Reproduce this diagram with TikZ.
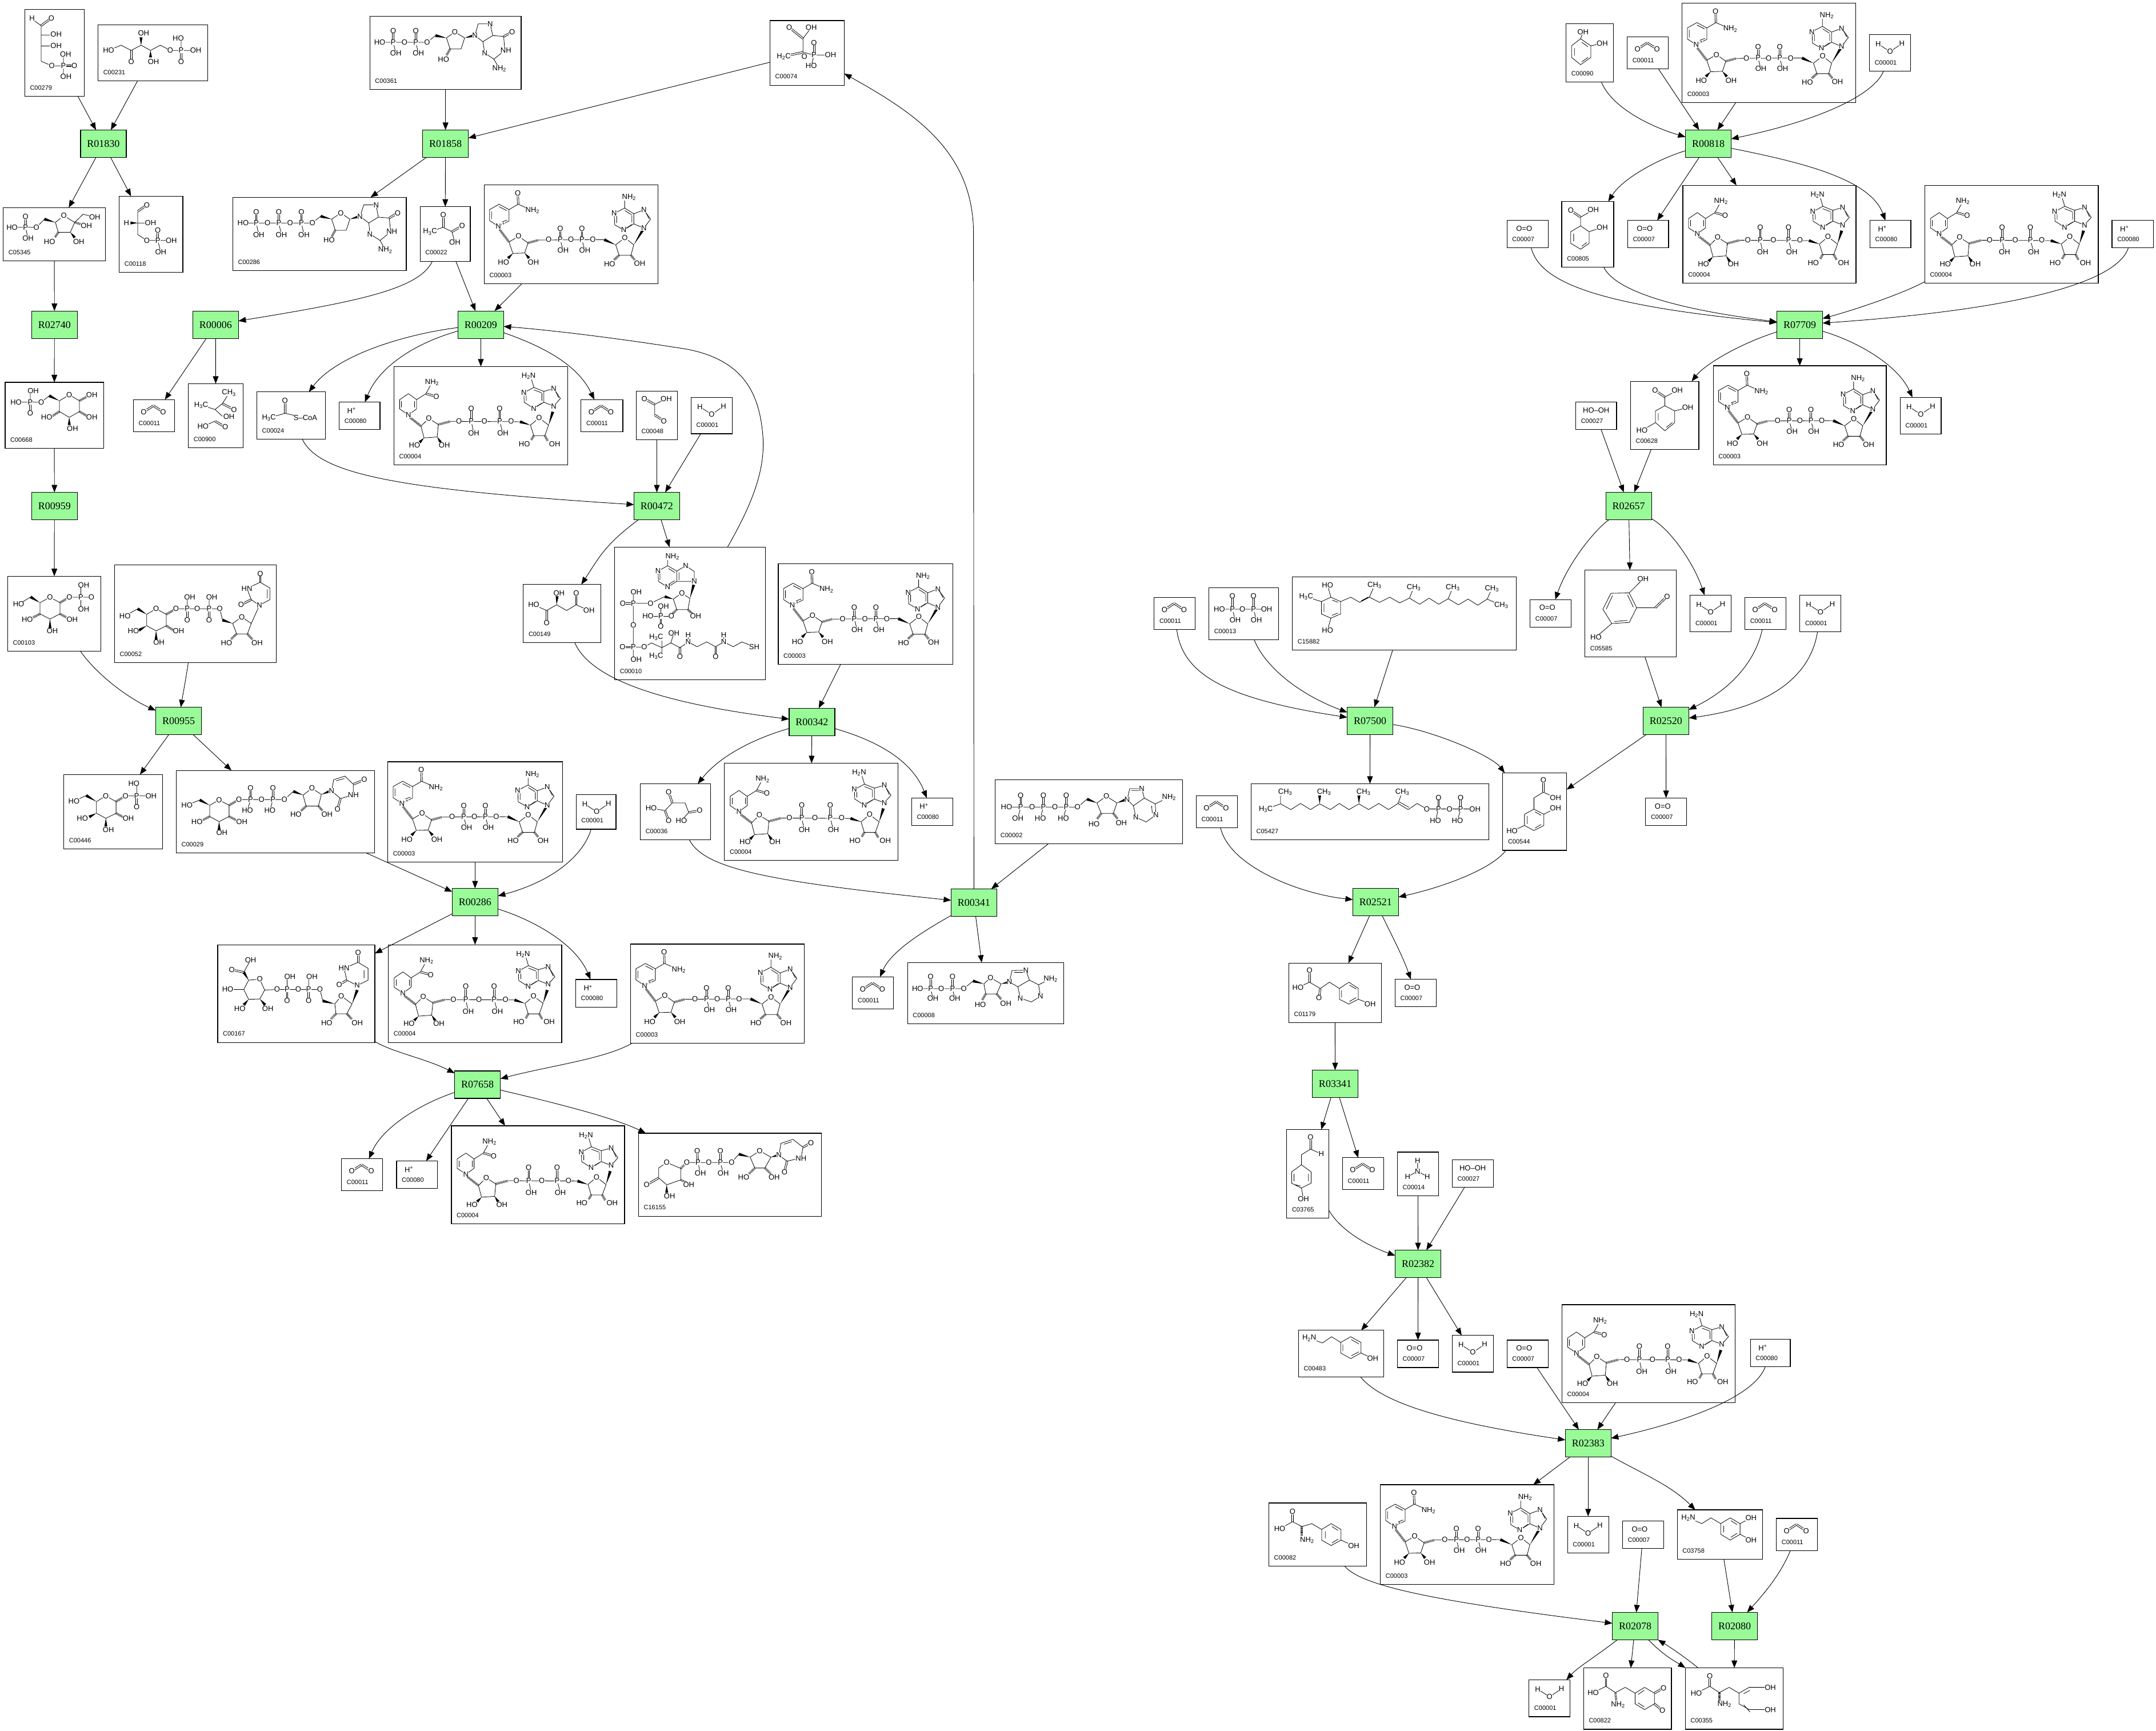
\documentclass[tikz,border=0pt]{standalone}
\usepackage{fontspec}
\setmainfont{Liberation Sans}
\newfontfamily\rfont{Liberation Serif}
\usetikzlibrary{calc,arrows.meta}
\newcounter{atm}
\tikzset{
 bd/.style={line width=.8pt,line join=round},
 hs/.style={line width=4pt,dash pattern=on .6pt off 1pt},
 atom/.style={fill=white,inner sep=.2pt,font=\fontsize{13}{13}\selectfont},
 cbox/.style={draw=black,fill=white,line width=1.2pt,inner sep=0pt,outer sep=0pt},
 rxn/.style={draw=black,fill={rgb,255:red,152;green,251;blue,152},line width=1.2pt,minimum width=80pt,minimum height=48pt,inner sep=0pt,outer sep=0pt,font=\rfont\fontsize{18}{18}\selectfont},
 lbl/.style={inner sep=0pt,font=\fontsize{11}{11}\selectfont},
 arr/.style={line width=.9pt,-{Triangle[length=13pt,width=10pt]}},
 fab/.style={x=.3333pt,y=-.3333pt}
}
\newcommand\At[3]{\stepcounter{atm}\node[atom] (at\arabic{atm}) at (#1,#2) {#3};}
\newcommand\Dbl[2]{\draw[bd] ($(#1)!1.4pt!90:(#2)$) -- ($(#2)!1.4pt!-90:(#1)$) ($(#1)!1.4pt!-90:(#2)$) -- ($(#2)!1.4pt!90:(#1)$);}
\newcommand\Wd[2]{\fill (#1) -- ($(#2)!2.6pt!90:(#1)$) -- ($(#2)!2.6pt!-90:(#1)$) -- cycle;}
\newcommand\Hs[2]{\draw[hs] (#1) -- (#2);}
\newcommand\Su[1]{\textsubscript{#1}}
\newcommand\cpd[6]{%
 \pgfmathsetmacro\cxx{(#2+#4)/2}\pgfmathsetmacro\cyy{(#3+#5)/2}%
 \pgfmathsetmacro\wdd{(#4-#2)*2.40625}\pgfmathsetmacro\htt{(#5-#3)*2.40625}%
 \node[cbox,minimum width=\wdd pt,minimum height=\htt pt] (#1) at (\cxx,\cyy) {};%
 \node[lbl,anchor=west] (#1t) at ([shift={(9pt,15pt)}]#1.south west) {#6};}
\newcommand\Mol[2]{\begin{scope}[shift={(#1.north west)},fab]#2\end{scope}}
\newcommand\St[2]{\draw[arr] (#1) -- (#2);}
\newcommand\Cv[4]{\draw[arr] (#1) .. controls (#2) and (#3) .. (#4);}
% small molecules, units are thirds of a pixel, origin top-left of box
\newcommand\mCO{\Dbl{54,65}{105,32}\Dbl{105,32}{156,65}\At{54}{65}{O}\At{156}{65}{O}}
\newcommand\mWat{\draw[bd] (46,49)--(108,89)--(170,47);\At{46}{49}{H}\At{170}{47}{H}\At{108}{89}{O}}
\newcommand\mOO{\At{90}{43}{O=O}}
\newcommand\mHp{\At{65}{44}{H\textsuperscript{+}}}
\newcommand\mHOOH{\At{107}{43}{HO--OH}}
\newcommand\mNAD{%
\draw[bd] (28,130)--(78,102)--(130,130)--(130,190)--(74,218)--(28,188)--cycle;
\draw[bd] (38,140)--(38,180) (78,115)--(118,135) (93,195)--(120,185);
\draw[bd] (130,130)--(178,102)--(253,135);
\Dbl{178,102}{176,43}
\Hs{80,235}{130,300}
\draw[bd] (130,300)--(180,270)--(230,305)--(212,358)--(150,360)--cycle;
\Wd{150,360}{125,385}\Wd{212,358}{235,385}
\Hs{230,305}{285,290}
\draw[bd] (285,290)--(630,288) (399,288)--(414,345) (513,288)--(528,345);
\Dbl{399,288}{399,230}\Dbl{513,288}{513,230}
\Wd{690,315}{630,288}
\draw[bd] (690,315)--(738,278)--(785,315)--(770,370)--(708,370)--cycle;
\Wd{785,315}{838,228}
\Hs{708,370}{680,395}\Hs{770,370}{790,395}
\draw[bd] (737,122)--(682,150)--(685,210)--(732,237)--(785,205)--(785,152)--(737,122)--(737,70) (785,152)--(838,132)--(873,180)--(838,228)--(785,205);
\draw[bd] (695,160)--(695,200) (738,135)--(773,157) (745,228)--(775,208) (848,145)--(865,178) (775,160)--(775,198);
\At{176}{43}{O}\At{253}{135}{NH\Su{2}}\At{74}{218}{N}\At{101}{205}{\fontsize{9}{9}\selectfont+}
\At{180}{270}{O}\At{101}{408}{HO}\At{258}{408}{OH}
\At{338}{288}{O}\At{399}{288}{P}\At{399}{230}{O}\At{414}{345}{OH}\At{455}{288}{O}\At{513}{288}{P}\At{513}{230}{O}\At{528}{345}{OH}\At{570}{288}{O}
\At{738}{278}{O}\At{658}{415}{HO}\At{816}{413}{OH}
\At{760}{65}{NH\Su{2}}\At{682}{150}{N}\At{732}{237}{N}\At{838}{132}{N}\At{838}{228}{N}}
\newcommand\mNADH{%
\draw[bd] (30,174)--(76,143)--(119,174)--(119,223)--(76,254)--(30,223)--cycle;
\draw[bd] (40,182)--(40,215) (109,182)--(109,215);
\draw[bd] (119,174)--(168,143)--(200,84);
\Dbl{168,143}{222,158}
\Hs{84,268}{142,313}
\draw[bd] (142,313)--(183,273)--(233,305)--(227,370)--(158,375)--cycle;
\Wd{158,375}{135,398}\Wd{227,370}{245,398}
\Hs{233,305}{298,288}
\draw[bd] (298,288)--(662,290) (406,288)--(419,350) (555,288)--(572,350);
\Dbl{406,288}{406,220}\Dbl{555,288}{555,220}
\Wd{717,308}{662,290}
\draw[bd] (717,308)--(762,270)--(812,308)--(792,363)--(734,363)--cycle;
\Wd{812,308}{834,238}
\Hs{734,363}{720,388}\Hs{792,363}{807,390}
\draw[bd] (735,110)--(682,138)--(684,188)--(734,220)--(787,188)--(787,131)--(735,110)--(720,60) (787,131)--(839,116)--(874,168)--(839,208)--(787,188);
\draw[bd] (695,148)--(695,180) (735,123)--(775,138) (745,212)--(778,192) (848,128)--(865,165) (777,140)--(777,180);
\At{222}{158}{O}\At{200}{84}{NH\Su{2}}\At{76}{254}{N}
\At{183}{273}{O}\At{108}{414}{HO}\At{265}{414}{OH}
\At{341}{288}{O}\At{406}{288}{P}\At{406}{220}{O}\At{419}{350}{OH}\At{475}{288}{O}\At{555}{288}{P}\At{555}{220}{O}\At{572}{350}{OH}\At{615}{288}{O}
\At{762}{270}{O}\At{685}{406}{HO}\At{844}{406}{OH}
\At{707}{50}{H\Su{2}N}\At{682}{138}{N}\At{734}{220}{N}\At{839}{116}{N}\At{839}{208}{N}}
\begin{document}
\begin{tikzpicture}[x=2.40625pt,y=-2.40625pt]
\useasboundingbox (0,0) rectangle (1568,1258.8);
\fill[white] (0,0) rectangle (1568,1258.8);
% reactions
\foreach \n/\p in {R01830/{75.2,104.5},R01858/{324,104.5},R02740/{39.6,236.1},R00006/{156.8,236.1},R00209/{349.7,236.1},R00959/{39.6,368},R00472/{477.7,368},R00955/{129.9,524.3},R00342/{590.5,525},R00286/{345.5,656},R00341/{708.3,656.4},R07658/{347.3,788.8},R00818/{1242.4,104.5},R07709/{1308.9,236.1},R02657/{1184.5,368},R02520/{1211.6,524.3},R07500/{996.4,524.2},R02521/{1000.5,656},R03341/{971,788.2},R02382/{1031.3,919.1},R02383/{1155,1049.6},R02078/{1189.2,1182.5},R02080/{1261.5,1182.5}}
 {\node[rxn] (\n) at (\p) {\n};}
% compounds
\cpd{C00279}{18}{6.8}{61.2}{70}{C00279}
\cpd{C00231}{71.3}{18}{151}{58.7}{C00231}
\cpd{C00361}{269}{11.9}{379}{65}{C00361}
\cpd{C05345}{2.4}{151}{76.6}{189.7}{C05345}
\cpd{C00118}{86.7}{142.7}{133}{198}{C00118}
\cpd{C00286}{169.3}{143.5}{295.5}{196.7}{C00286}
\cpd{C00022}{305.5}{150.3}{342}{190}{C00022}
\cpd{C00003a}{352.2}{134.4}{478.7}{206.4}{C00003}
\cpd{C00668}{3.7}{278}{75.3}{326}{C00668}
\cpd{C00011a}{97}{290.6}{127}{314}{C00011}
\cpd{C00900}{137}{279}{176.8}{325.6}{C00900}
\cpd{C00024}{186.8}{285}{236.6}{319.3}{C00024}
\cpd{C00080a}{246.7}{292.4}{276.4}{312.3}{C00080}
\cpd{C00004a}{286.5}{266.5}{412.9}{338}{C00004}
\cpd{C00011b}{422.6}{290.6}{453}{314}{C00011}
\cpd{C00048}{462.7}{284.4}{492.7}{319.7}{C00048}
\cpd{C00001a}{502.6}{289}{532.7}{315.4}{C00001}
\cpd{C00149}{380.6}{425}{437}{467.3}{C00149}
\cpd{C00010}{447}{397.9}{556.6}{494.3}{C00010}
\cpd{C00003b}{566}{410}{693}{483}{C00003}
\cpd{C00103}{5.6}{419}{73.3}{473.5}{C00103}
\cpd{C00052}{83.3}{410.7}{200.9}{481.8}{C00052}
\cpd{C00446}{46.4}{563.3}{118.2}{617.4}{C00446}
\cpd{C00029}{128.2}{560.3}{272.3}{620.3}{C00029}
\cpd{C00003c}{282}{554}{409}{627}{C00003}
\cpd{C00001b}{419}{578}{448}{603}{C00001}
\cpd{C00036}{465.7}{570}{516.8}{610.7}{C00036}
\cpd{C00004b}{526.9}{555}{653}{625.6}{C00004}
\cpd{C00080b}{663}{580.3}{693}{600.3}{C00080}
\cpd{C00002}{723.8}{567}{860}{613.6}{C00002}
\cpd{C00167}{158.3}{687}{272.6}{758.1}{C00167}
\cpd{C00004c}{282.5}{687}{408.5}{758.1}{C00004}
\cpd{C00080c}{418.7}{712.3}{448.7}{732.3}{C00080}
\cpd{C00003d}{458.6}{686.5}{584.8}{758.6}{C00003}
\cpd{C00011c}{620}{710.4}{649.9}{733.6}{C00011}
\cpd{C00008}{660}{700}{773.6}{744.5}{C00008}
\cpd{C00011d}{248.4}{842.6}{278.2}{866}{C00011}
\cpd{C00080d}{288.4}{844.3}{318}{864.3}{C00080}
\cpd{C00004d}{328.3}{818.7}{454.2}{890.1}{C00004}
\cpd{C16155}{464.4}{824.1}{597.3}{884.4}{C16155}
\cpd{C00074}{560}{15}{614}{62}{C00074}
\cpd{C00090}{1139}{17.2}{1173.3}{59.6}{C00090}
\cpd{C00011e}{1183.4}{26.7}{1213.2}{50}{C00011}
\cpd{C00003e}{1223.3}{2.3}{1349.5}{74.6}{C00003}
\cpd{C00001c}{1359.6}{25.2}{1389.4}{51.7}{C00001}
\cpd{C00007a}{1096}{160.3}{1126}{180.2}{C00007}
\cpd{C00805}{1135.8}{146.5}{1173.6}{194.2}{C00805}
\cpd{C00007b}{1183.7}{160.3}{1213.5}{180.2}{C00007}
\cpd{C00004e}{1223.9}{134.8}{1349.8}{205.9}{C00004}
\cpd{C00080e}{1360}{160.3}{1389.7}{180.2}{C00080}
\cpd{C00004f}{1399.8}{134.8}{1526}{205.9}{C00004}
\cpd{C00080f}{1536}{160.3}{1566}{180.2}{C00080}
\cpd{C00027a}{1146}{292.4}{1175.7}{312.3}{C00027}
\cpd{C00628}{1185.8}{277.3}{1235.5}{327}{C00628}
\cpd{C00003f}{1246}{266}{1371.8}{338}{C00003}
\cpd{C00001d}{1382}{289}{1411.7}{315.7}{C00001}
\cpd{C00007c}{1112.8}{436}{1142.6}{456}{C00007}
\cpd{C05585}{1152.7}{414.5}{1219.2}{477.6}{C05585}
\cpd{C00001e}{1229.2}{432.8}{1259}{459.5}{C00001}
\cpd{C00011f}{1269}{434.4}{1299}{457.9}{C00011}
\cpd{C00001f}{1309}{432.8}{1338.8}{459.5}{C00001}
\cpd{C00544}{1092.9}{562}{1139.4}{618.4}{C00544}
\cpd{C00007d}{1196.8}{580.3}{1226.6}{600.2}{C00007}
\cpd{C00011g}{839.4}{434.4}{869.2}{457.9}{C00011}
\cpd{C00013}{879.2}{427.4}{929.9}{465.2}{C00013}
\cpd{C15882}{939.9}{419.5}{1102.8}{472.7}{C15882}
\cpd{C00011h}{870}{578.6}{900}{601.9}{C00011}
\cpd{C05427}{909.9}{569.9}{1082.7}{610.6}{C05427}
\cpd{C01179}{937.3}{700.4}{1004.6}{743.7}{C01179}
\cpd{C00007e}{1014.6}{712.2}{1044.5}{732.1}{C00007}
\cpd{C03765}{935.8}{821.4}{966.5}{885.7}{C03765}
\cpd{C00011i}{976.4}{841.9}{1006.4}{865}{C00011}
\cpd{C00014}{1016.3}{837.8}{1046.2}{869.6}{C00014}
\cpd{C00027b}{1056.2}{843.5}{1086.1}{863.4}{C00027}
\cpd{C00483}{944.4}{967.4}{1006.4}{1001.5}{C00483}
\cpd{C00007f}{1016.3}{974.5}{1046.2}{994.5}{C00007}
\cpd{C00001g}{1056.2}{971.1}{1086.1}{997.8}{C00001}
\cpd{C00007g}{1096}{974.5}{1126}{994.5}{C00007}
\cpd{C00004g}{1136}{948.8}{1262}{1020}{C00004}
\cpd{C00080g}{1273}{974}{1302}{994}{C00080}
\cpd{C00082}{922.8}{1093}{993.8}{1139}{C00082}
\cpd{C00003g}{1003.9}{1079.7}{1130}{1152.3}{C00003}
\cpd{C00001h}{1140}{1102.7}{1170}{1129.3}{C00001}
\cpd{C00007h}{1180}{1106}{1209.8}{1126}{C00007}
\cpd{C03758}{1219.8}{1098}{1281.9}{1134}{C03758}
\cpd{C00011j}{1291.9}{1104.2}{1321.6}{1127.8}{C00011}
\cpd{C00001i}{1112}{1221.6}{1141.7}{1248.4}{C00001}
\cpd{C00822}{1151.7}{1212.9}{1215.6}{1257.5}{C00822}
\cpd{C00355}{1225.7}{1212.9}{1296.7}{1257.5}{C00355}
% repeated molecules
\foreach \b in {C00003a,C00003b,C00003c,C00003d,C00003e,C00003f,C00003g}{\Mol{\b}{\mNAD}}
\foreach \b in {C00004a,C00004b,C00004c,C00004d,C00004e,C00004f,C00004g}{\Mol{\b}{\mNADH}}
\foreach \b in {C00011a,C00011b,C00011c,C00011d,C00011e,C00011f,C00011g,C00011h,C00011i,C00011j}{\Mol{\b}{\mCO}}
\foreach \b in {C00001a,C00001b,C00001c,C00001d,C00001e,C00001f,C00001g,C00001h,C00001i}{\Mol{\b}{\mWat}}
\foreach \b in {C00007a,C00007b,C00007c,C00007d,C00007e,C00007f,C00007g,C00007h}{\Mol{\b}{\mOO}}
\foreach \b in {C00080a,C00080b,C00080c,C00080d,C00080e,C00080f,C00080g}{\Mol{\b}{\mHp}}
\foreach \b in {C00027a,C00027b}{\Mol{\b}{\mHOOH}}
% single molecules, zoom 1 frame
\begin{scope}[x=.6378pt,y=-.51pt]
\draw[bd] (95,72)--(113,88)--(113,210)--(142,226)--(204,226) (113,120)--(137,120) (113,158)--(137,158) (174,187)--(174,262);
\Dbl{113,88}{141,62}\Dbl{174,226}{204,226}
\At{88}{62}{H}\At{141}{62}{O}\At{154}{118}{OH}\At{154}{157}{OH}\At{142}{226}{O}\At{174}{226}{P}\At{180}{187}{OH}\At{204}{226}{O}\At{181}{262}{OH}
\draw[bd] (298,173)--(332,155)--(360,173)--(387,155)--(413,173)--(440,155)--(467,173)--(537,173) (497,132)--(497,173);
\Dbl{360,173}{360,212}\Dbl{497,173}{497,212}\Wd{387,155}{387,128}\Wd{413,173}{413,197}
\At{298}{173}{HO}\At{360}{212}{O}\At{394}{114}{OH}\At{421}{212}{OH}\At{467}{173}{O}\At{497}{173}{P}\At{489}{132}{HO}\At{537}{173}{OH}\At{497}{212}{O}
\draw[bd] (1042,145)--(1172,145)--(1195,122) (1079,145)--(1086,183) (1141,145)--(1148,183);
\Dbl{1079,145}{1079,105}\Dbl{1141,145}{1141,105}\Wd{1225,130}{1195,122}
\draw[bd] (1225,130)--(1248,110)--(1275,130)--(1265,168)--(1235,168)--cycle;
\Hs{1235,168}{1225,190}\Wd{1275,130}{1300,122}
\draw[bd] (1303,122)--(1325,143)--(1330,182)--(1355,203)--(1385,173)--(1382,125)--(1352,122)--(1325,143) (1352,122)--(1345,82)--(1312,82)--(1303,122) (1355,203)--(1370,235);
\Dbl{1382,125}{1405,110}
\At{1042}{145}{HO}\At{1079}{145}{P}\At{1079}{105}{O}\At{1086}{183}{OH}\At{1110}{145}{O}\At{1141}{145}{P}\At{1141}{105}{O}\At{1148}{183}{OH}\At{1172}{145}{O}\At{1248}{110}{O}\At{1217}{203}{HO}\At{1303}{122}{N}\At{1345}{82}{N}\At{1330}{182}{N}\At{1388}{173}{NH}\At{1405}{110}{O}\At{1370}{235}{NH\Su{2}}
\draw[bd] (667,765)--(857,765)--(880,742) (703,765)--(710,805) (765,765)--(772,805) (827,765)--(834,805);
\Dbl{703,765}{703,727}\Dbl{765,765}{765,727}\Dbl{827,765}{827,727}\Wd{910,752}{880,742}
\draw[bd] (910,752)--(935,731)--(960,752)--(950,790)--(920,790)--cycle;
\Hs{920,790}{910,812}\Wd{960,752}{985,743}
\draw[bd] (988,743)--(1012,765)--(1015,803)--(1043,825)--(1072,795)--(1068,748)--(1038,745)--(1012,765) (1038,745)--(1032,703)--(998,703)--(988,743) (1043,825)--(1057,858);
\Dbl{1068,748}{1091,731}
\At{667}{765}{HO}\At{703}{765}{P}\At{703}{727}{O}\At{710}{805}{OH}\At{734}{765}{O}\At{765}{765}{P}\At{765}{727}{O}\At{772}{805}{OH}\At{796}{765}{O}\At{827}{765}{P}\At{827}{727}{O}\At{834}{805}{OH}\At{857}{765}{O}\At{935}{731}{O}\At{903}{824}{HO}\At{988}{743}{N}\At{1032}{703}{N}\At{1015}{803}{N}\At{1075}{795}{NH}\At{1091}{731}{O}\At{1057}{858}{NH\Su{2}}
\draw[bd] (33,780)--(100,780)--(122,752) (70,780)--(77,818);
\Dbl{70,780}{70,743}\Wd{152,763}{122,752}
\draw[bd] (152,763)--(175,740)--(205,763)--(193,797)--(160,797)--cycle (205,763)--(228,735)--(260,745);
\Hs{205,763}{237,775}\Hs{160,797}{150,815}\Wd{193,797}{205,815}
\At{33}{780}{HO}\At{70}{780}{P}\At{70}{743}{O}\At{77}{818}{OH}\At{100}{780}{O}\At{175}{740}{O}\At{260}{745}{OH}\At{237}{775}{OH}\At{136}{830}{HO}\At{216}{830}{OH}
\draw[bd] (378,725)--(378,805)--(403,825)--(470,825) (433,825)--(441,864) (378,765)--(400,765);
\Dbl{378,725}{403,703}\Dbl{433,825}{433,790}\Wd{378,765}{358,765}
\At{403}{703}{O}\At{347}{764}{H}\At{413}{764}{OH}\At{403}{825}{O}\At{433}{825}{P}\At{433}{790}{O}\At{470}{825}{OH}\At{441}{864}{OH}
\draw[bd] (1180,795)--(1216,780)--(1240,795)--(1248,832);
\Dbl{1216,780}{1216,737}\Dbl{1240,795}{1268,775}
\At{1216}{737}{O}\At{1180}{795}{H\Su{3}C}\At{1268}{775}{O}\At{1248}{832}{OH}
\draw[bd] (44,1380)--(113,1380)--(135,1358) (83,1342)--(83,1380);
\Dbl{83,1380}{83,1418}\Wd{163,1375}{135,1358}
\draw[bd] (163,1375)--(190,1355)--(218,1375)--(218,1412)--(190,1432)--(163,1412)--cycle;
\Hs{218,1375}{240,1360}\Hs{218,1412}{240,1428}\Hs{163,1412}{143,1428}\Wd{190,1432}{190,1458}
\At{91}{1342}{OH}\At{44}{1380}{HO}\At{83}{1380}{P}\At{83}{1418}{O}\At{113}{1380}{O}\At{190}{1355}{O}\At{252}{1355}{OH}\At{252}{1432}{OH}\At{199}{1470}{OH}\At{128}{1432}{HO}
\draw[bd] (552,1390)--(590,1405)--(610,1385)--(628,1350) (590,1405)--(610,1428) (557,1463)--(590,1445);
\Dbl{610,1385}{642,1405}\Dbl{590,1445}{618,1465}
\At{552}{1390}{H\Su{3}C}\At{628}{1348}{CH\Su{3}}\At{642}{1405}{O}\At{628}{1430}{OH}\At{557}{1463}{HO}\At{618}{1465}{O}
\draw[bd] (738,1434)--(782,1418)--(838,1434);
\Dbl{782,1418}{782,1375}
\At{782}{1375}{O}\At{738}{1434}{H\Su{3}C}\At{838}{1434}{S--CoA}
\end{scope}
% zoom 2 frame
\begin{scope}[shift={(2650pt,0pt)},x=.716pt,y=-.51pt]
\draw[bd] (168,110)--(162,133) (162,133)--(187,157)--(187,197)--(162,222)--(140,197)--(140,157)--cycle (187,157)--(215,149) (147,165)--(147,190) (165,212)--(180,197) (165,145)--(180,160);
\At{168}{110}{OH}\At{215}{149}{OH}
\draw[bd] (162,745)--(193,720) (162,745)--(162,775) (162,775)--(183,795)--(183,835)--(162,855)--(138,835)--(138,795)--cycle (183,795)--(215,780) (145,802)--(145,828) (165,845)--(177,832);
\Dbl{162,745}{138,722}
\At{138}{722}{O}\At{193}{720}{OH}\At{215}{780}{OH}
\draw[bd] (368,1362)--(398,1340) (368,1362)--(368,1392) (368,1392)--(392,1410)--(392,1450)--(368,1478)--(345,1450)--(345,1410)--cycle (392,1410)--(424,1398) (345,1450)--(312,1477) (352,1418)--(352,1442) (372,1466)--(386,1450);
\Dbl{368,1362}{344,1340}
\At{344}{1340}{O}\At{398}{1340}{OH}\At{424}{1398}{OH}\At{312}{1477}{HO}
\end{scope}
% zoom 5 frame
\begin{scope}[shift={(2000pt,-980pt)},x=.4464pt,y=-.3333pt]
\draw[bd] (300,258)--(485,258) (351,258)--(362,315) (434,258)--(445,315);
\Dbl{351,258}{351,188}\Dbl{434,258}{434,188}
\At{300}{258}{HO}\At{351}{258}{P}\At{351}{188}{O}\At{362}{315}{OH}\At{390}{258}{O}\At{434}{258}{P}\At{434}{188}{O}\At{445}{315}{OH}\At{485}{258}{OH}
\draw[bd] (737,195)--(775,218)--(775,283)--(737,305)--(700,283)--(700,218)--cycle (724,132)--(737,195) (700,218)--(640,193) (737,305)--(724,368) (710,228)--(710,273) (742,210)--(765,222) (742,290)--(765,278);
\draw[bd] (775,218)--(815,195)--(850,222)--(888,195)--(928,222)--(968,195)--(1007,225)--(1045,200)--(1085,232)--(1122,200)--(1160,232)--(1197,203)--(1237,235)--(1275,205)--(1313,237)--(1350,205)--(1405,238) (888,195)--(908,133) (1045,200)--(1062,143) (1197,203)--(1215,145) (1350,205)--(1368,150) (856,214)--(884,194);
\At{724}{132}{HO}\At{640}{193}{H\Su{3}C}\At{724}{368}{HO}\At{908}{133}{CH\Su{3}}\At{1062}{143}{CH\Su{3}}\At{1215}{145}{CH\Su{3}}\At{1368}{150}{CH\Su{3}}\At{1405}{238}{CH\Su{3}}
\draw[bd] (482,1308)--(540,1280)--(580,1310)--(618,1278)--(657,1310)--(693,1280)--(735,1310)--(770,1278)--(808,1310)--(847,1280)--(885,1310)--(925,1278)--(963,1310)--(1000,1278)--(1040,1310)--(1075,1278)--(1113,1307)--(1302,1307) (540,1280)--(540,1218) (1000,1278)--(1017,1218) (1005,1270)--(1043,1298) (1159,1307)--(1147,1367) (1246,1307)--(1233,1367);
\Wd{693,1280}{693,1235}\Wd{847,1280}{847,1235}
\Dbl{1159,1307}{1159,1247}\Dbl{1246,1307}{1246,1247}
\At{482}{1308}{H\Su{3}C}\At{558}{1218}{CH\Su{3}}\At{710}{1218}{CH\Su{3}}\At{865}{1218}{CH\Su{3}}\At{1017}{1218}{CH\Su{3}}\At{1113}{1307}{O}\At{1159}{1307}{P}\At{1159}{1247}{O}\At{1147}{1367}{HO}\At{1202}{1307}{O}\At{1246}{1307}{P}\At{1246}{1247}{O}\At{1233}{1367}{HO}\At{1302}{1307}{OH}
\end{scope}
% zoom 6 frame
\begin{scope}[shift={(2200pt,-2500pt)},x=.6378pt,y=-.339pt]
\draw[bd] (62,517)--(97,480)--(123,505)--(150,490)--(177,520) (177,520)--(203,490)--(230,520)--(230,575)--(203,603)--(177,575)--cycle (230,575)--(265,605) (187,530)--(187,565) (205,505)--(222,525) (205,590)--(222,570);
\Dbl{97,480}{97,428}\Hs{123,505}{123,550}
\At{97}{428}{O}\At{62}{517}{HO}\At{137}{575}{NH\Su{2}}\At{265}{605}{OH}
\draw[bd] (1183,460)--(1220,490)--(1245,460)--(1272,490) (1272,490)--(1298,460)--(1325,490)--(1325,545)--(1298,575)--(1272,545)--cycle (1325,490)--(1355,460) (1325,545)--(1355,575) (1280,500)--(1280,535) (1300,475)--(1317,495) (1300,560)--(1317,540);
\At{1183}{460}{H\Su{2}N}\At{1355}{460}{OH}\At{1355}{575}{OH}
\draw[bd] (922,1362)--(957,1330)--(983,1362)--(1010,1335)--(1037,1365) (1037,1365)--(1063,1335)--(1090,1365)--(1090,1420)--(1063,1450)--(1037,1420)--cycle (1045,1372)--(1062,1350) (1045,1415)--(1062,1436);
\Dbl{957,1330}{957,1275}\Dbl{1090,1365}{1115,1338}\Dbl{1090,1420}{1112,1455}\Hs{983,1362}{985,1405}
\At{957}{1275}{O}\At{922}{1362}{HO}\At{990}{1425}{NH\Su{2}}\At{1115}{1338}{O}\At{1112}{1455}{O}
\draw[bd] (1205,1365)--(1242,1330)--(1268,1362)--(1295,1335)--(1322,1365)--(1350,1335)--(1408,1335) (1322,1365)--(1322,1420)--(1350,1450)--(1408,1450) (1335,1368)--(1352,1350) (1335,1425)--(1352,1462);
\Dbl{1242,1330}{1242,1278}\Hs{1268,1362}{1268,1400}
\At{1242}{1278}{O}\At{1205}{1365}{HO}\At{1282}{1422}{NH\Su{2}}\At{1408}{1335}{OH}\At{1408}{1450}{OH}
\end{scope}
% zoom 7 frame
\begin{scope}[shift={(0pt,-960pt)},x=.4464pt,y=-.357pt]
\draw[bd] (73,273)--(120,237) (157,265)--(196,238)--(235,265)--(235,320)--(196,345)--(157,320)--cycle (272,238)--(358,238) (317,178)--(317,297);
\Wd{157,265}{120,237}\Hs{235,265}{272,238}\Hs{157,320}{125,340}\Hs{235,320}{265,340}\Wd{196,345}{196,390}
\At{73}{273}{HO}\At{196}{238}{O}\At{272}{238}{O}\At{317}{238}{P}\At{328}{178}{OH}\At{358}{238}{O}\At{328}{297}{OH}\At{107}{347}{HO}\At{283}{347}{OH}\At{205}{403}{OH}
\draw[bd] (490,330)--(540,295) (575,322)--(612,295)--(652,322)--(652,378)--(612,403)--(575,378)--cycle (690,295)--(862,295)--(872,350) (734,238)--(734,295) (820,238)--(820,295);
\Wd{575,322}{540,295}\Hs{652,322}{690,295}\Wd{575,378}{545,400}\Hs{652,378}{680,400}\Wd{612,403}{612,445}
\Dbl{734,295}{734,350}\Dbl{820,295}{820,350}\Wd{912,367}{872,350}
\draw[bd] (912,367)--(948,335)--(985,367)--(970,418)--(928,418)--cycle (985,367)--(1017,278)--(1058,250)--(1058,193)--(1020,165)--(968,195)--(985,250)--(1017,278) (1048,200)--(1048,243);
\Hs{928,418}{905,445}\Hs{970,418}{990,445}
\Dbl{1020,165}{1020,122}\Dbl{985,250}{945,275}
\At{490}{330}{HO}\At{612}{295}{O}\At{690}{295}{O}\At{734}{295}{P}\At{744}{238}{OH}\At{734}{350}{O}\At{773}{295}{O}\At{820}{295}{P}\At{830}{238}{OH}\At{820}{350}{O}\At{862}{295}{O}\At{523}{403}{HO}\At{700}{403}{OH}\At{623}{460}{OH}\At{948}{335}{O}\At{888}{462}{HO}\At{1008}{462}{OH}\At{1017}{278}{N}\At{1020}{122}{O}\At{968}{195}{HN}\At{945}{275}{O}
\draw[bd] (290,1238)--(338,1210) (378,1240)--(415,1212)--(455,1240)--(455,1297)--(415,1322)--(378,1297)--cycle (492,1212)--(592,1212) (536,1150)--(536,1212);
\Wd{378,1240}{338,1210}\Hs{455,1240}{492,1212}\Wd{378,1297}{350,1315}\Hs{455,1297}{482,1315}\Wd{415,1322}{415,1362}
\Dbl{536,1212}{536,1267}
\At{290}{1238}{HO}\At{415}{1212}{O}\At{492}{1212}{O}\At{536}{1212}{P}\At{525}{1150}{HO}\At{592}{1212}{OH}\At{536}{1267}{O}\At{503}{1322}{OH}\At{425}{1378}{OH}\At{323}{1322}{HO}
\draw[bd] (733,1258)--(783,1232) (822,1258)--(859,1232)--(898,1258)--(898,1313)--(859,1338)--(822,1313)--cycle (937,1230)--(1115,1230)--(1150,1190) (982,1230)--(970,1283) (1070,1230)--(1058,1283);
\Wd{822,1258}{783,1232}\Hs{898,1258}{937,1230}\Hs{822,1313}{795,1330}\Hs{898,1313}{925,1330}\Wd{859,1338}{859,1378}
\Dbl{982,1230}{982,1173}\Dbl{1070,1230}{1070,1173}\Wd{1188,1208}{1150,1190}
\draw[bd] (1188,1208)--(1223,1175)--(1260,1205)--(1248,1262)--(1200,1262)--cycle (1300,1188)--(1308,1133)--(1352,1115)--(1385,1155)--(1385,1207)--(1335,1225)--(1300,1188) (1318,1138)--(1350,1127);
\Hs{1200,1262}{1180,1285}\Hs{1248,1262}{1265,1285}\Wd{1260,1205}{1295,1188}
\Dbl{1385,1155}{1428,1133}\Dbl{1335,1225}{1323,1278}
\At{733}{1258}{HO}\At{859}{1232}{O}\At{937}{1230}{O}\At{982}{1230}{P}\At{982}{1173}{O}\At{970}{1283}{HO}\At{1025}{1230}{O}\At{1070}{1230}{P}\At{1070}{1173}{O}\At{1058}{1283}{HO}\At{1115}{1230}{O}\At{1223}{1175}{O}\At{1160}{1302}{HO}\At{1282}{1302}{OH}\At{1300}{1188}{N}\At{1428}{1133}{O}\At{1385}{1207}{NH}\At{1323}{1278}{O}\At{870}{1393}{OH}\At{772}{1338}{HO}\At{948}{1338}{OH}
\end{scope}
% zoom 8 frame
\begin{scope}[shift={(360pt,-1620pt)},x=.7015pt,y=-.346pt]
\draw[bd] (107,275)--(135,270)--(147,325)--(135,370)--(107,372)--(95,322)--cycle (147,325)--(178,322)--(285,322)--(292,380) (203,258)--(203,322) (257,258)--(257,322) (95,322)--(55,322) (112,172)--(95,235);
\Wd{107,275}{95,235}\Dbl{95,235}{65,222}\Dbl{203,322}{203,378}\Dbl{257,322}{257,378}\Wd{107,372}{95,400}\Wd{135,370}{148,400}\Wd{322,395}{292,380}
\draw[bd] (322,395)--(338,355)--(365,395)--(352,445)--(325,445)--cycle (378,302)--(405,275)--(405,215)--(380,185)--(345,215)--(352,275)--(378,302) (395,225)--(395,265);
\Wd{365,395}{378,325}\Hs{325,445}{312,472}\Hs{352,445}{365,472}\Dbl{380,185}{380,135}\Dbl{352,275}{333,298}
\At{112}{172}{OH}\At{65}{222}{O}\At{135}{270}{O}\At{55}{322}{HO}\At{85}{418}{HO}\At{155}{418}{OH}\At{178}{322}{O}\At{203}{322}{P}\At{210}{258}{OH}\At{203}{378}{O}\At{231}{322}{O}\At{257}{322}{P}\At{265}{258}{OH}\At{257}{378}{O}\At{285}{322}{O}\At{338}{355}{O}\At{302}{490}{HO}\At{378}{490}{OH}\At{378}{302}{N}\At{380}{135}{O}\At{345}{215}{HN}\At{333}{298}{O}
\draw[bd] (1150,1197)--(1185,1227)--(1185,1285)--(1150,1310)--(1130,1275)--(1130,1225)--cycle (1200,1197)--(1312,1197)--(1330,1155) (1228,1197)--(1234,1252) (1284,1197)--(1291,1252);
\Hs{1185,1227}{1200,1197}\Dbl{1130,1275}{1100,1310}\Wd{1150,1310}{1150,1350}\Hs{1185,1285}{1200,1300}
\Dbl{1228,1197}{1226,1138}\Dbl{1284,1197}{1284,1138}\Wd{1358,1170}{1330,1155}
\draw[bd] (1358,1170)--(1382,1138)--(1410,1170)--(1395,1225)--(1370,1225)--cycle (1430,1160)--(1435,1100)--(1465,1080)--(1490,1120)--(1485,1175)--(1450,1190)--(1430,1160) (1442,1105)--(1462,1092);
\Hs{1370,1225}{1355,1255}\Hs{1395,1225}{1410,1255}\Wd{1410,1170}{1428,1160}\Dbl{1490,1120}{1510,1098}\Dbl{1450,1190}{1444,1245}
\At{1150}{1197}{O}\At{1100}{1310}{O}\At{1157}{1367}{OH}\At{1205}{1310}{OH}\At{1200}{1197}{O}\At{1228}{1197}{P}\At{1226}{1138}{O}\At{1234}{1252}{OH}\At{1255}{1197}{O}\At{1284}{1197}{P}\At{1284}{1138}{O}\At{1291}{1252}{OH}\At{1312}{1197}{O}\At{1382}{1138}{O}\At{1342}{1272}{HO}\At{1418}{1272}{OH}\At{1430}{1160}{N}\At{1510}{1098}{O}\At{1485}{1175}{NH}\At{1444}{1245}{O}
\end{scope}
% zoom 9 frame
\begin{scope}[shift={(1100pt,-1300pt)},x=.6378pt,y=-.3333pt]
\draw[bd] (62,343)--(100,355)--(120,315)--(155,315)--(165,365)--(145,408);
\Dbl{120,315}{110,258}\Dbl{100,355}{110,408}\Dbl{165,365}{195,355}
\At{110}{258}{O}\At{62}{343}{HO}\At{110}{408}{O}\At{195}{355}{O}\At{145}{408}{HO}
\draw[bd] (1037,337)--(1232,337)--(1258,295) (1076,337)--(1068,395) (1138,337)--(1130,395) (1201,337)--(1193,395);
\Dbl{1076,337}{1076,275}\Dbl{1138,337}{1138,275}\Dbl{1201,337}{1201,275}\Wd{1285,315}{1258,295}
\draw[bd] (1285,315)--(1311,280)--(1340,315)--(1330,370)--(1297,370)--cycle (1368,297)--(1375,240)--(1408,240)--(1415,290)--(1385,330)--(1368,297) (1415,290)--(1445,320)--(1483,285) (1445,320)--(1447,378)--(1420,415)--(1392,390)--(1385,330) (1380,250)--(1400,250) (1435,330)--(1437,368);
\Wd{1340,315}{1365,297}\Hs{1297,370}{1285,400}\Hs{1330,370}{1342,400}
\At{1037}{337}{HO}\At{1076}{337}{P}\At{1076}{275}{O}\At{1068}{395}{OH}\At{1107}{337}{O}\At{1138}{337}{P}\At{1138}{275}{O}\At{1130}{395}{HO}\At{1170}{337}{O}\At{1201}{337}{P}\At{1201}{275}{O}\At{1193}{395}{HO}\At{1232}{337}{O}\At{1311}{280}{O}\At{1277}{425}{HO}\At{1352}{420}{OH}\At{1368}{297}{N}\At{1408}{240}{N}\At{1483}{285}{NH\Su{2}}\At{1447}{378}{N}\At{1392}{390}{N}
\draw[bd] (793,1290)--(920,1290)--(945,1250) (829,1290)--(835,1342) (889,1290)--(895,1342);
\Dbl{829,1290}{829,1228}\Dbl{889,1290}{889,1228}\Wd{975,1265}{945,1250}
\draw[bd] (975,1265)--(993,1232)--(1022,1265)--(1010,1318)--(980,1318)--cycle (1045,1255)--(1052,1195)--(1090,1193)--(1100,1245)--(1068,1280)--(1045,1255) (1100,1245)--(1125,1270)--(1158,1238) (1125,1270)--(1130,1330)--(1105,1360)--(1075,1340)--(1068,1280) (1058,1205)--(1082,1205);
\Wd{1022,1265}{1045,1255}\Hs{980,1318}{970,1350}\Hs{1010,1318}{1022,1345}
\At{793}{1290}{HO}\At{829}{1290}{P}\At{829}{1228}{O}\At{835}{1342}{OH}\At{858}{1290}{O}\At{889}{1290}{P}\At{889}{1228}{O}\At{895}{1342}{OH}\At{920}{1290}{O}\At{993}{1232}{O}\At{965}{1375}{HO}\At{1035}{1367}{OH}\At{1045}{1255}{N}\At{1090}{1193}{N}\At{1158}{1238}{NH\Su{2}}\At{1130}{1330}{N}\At{1075}{1340}{N}
\end{scope}
% zoom 10 frame
\begin{scope}[shift={(2600pt,-950pt)},x=.4847pt,y=-.357pt]
\draw[bd] (518,245)--(545,318)--(518,390)--(455,395)--(423,325)--(452,247)--cycle (518,245)--(568,177) (545,318)--(612,318) (455,395)--(398,462) (512,255)--(533,315) (465,385)--(512,380) (435,325)--(458,258);
\Dbl{612,318}{655,262}
\At{568}{177}{OH}\At{655}{262}{O}\At{398}{462}{HO}
\draw[bd] (252,1248)--(208,1222)--(174,1250)--(174,1305) (174,1305)--(210,1330)--(210,1385)--(174,1410)--(140,1385)--(140,1330)--cycle (210,1330)--(252,1300) (140,1385)--(95,1413) (150,1338)--(150,1378) (178,1398)--(200,1380) (178,1318)--(200,1335);
\Dbl{208,1222}{208,1163}
\At{208}{1163}{O}\At{252}{1248}{OH}\At{252}{1300}{OH}\At{95}{1413}{HO}
\end{scope}
% zoom 11 frame
\begin{scope}[shift={(2220pt,-1660pt)},x=.4592pt,y=-.4975pt]
\draw[bd] (112,136)--(156,118)--(197,140)--(232,118)--(270,140) (270,140)--(306,118)--(342,140)--(342,178)--(306,195)--(270,178)--cycle (342,178)--(387,194) (278,147)--(278,172) (308,128)--(334,142) (308,186)--(334,172);
\Dbl{156,118}{156,77}\Dbl{197,140}{192,173}
\At{156}{77}{O}\At{112}{136}{HO}\At{192}{173}{O}\At{387}{194}{OH}
\draw[bd] (201,722)--(160,705)--(125,725)--(125,760)--(162,785)--(162,825)--(125,842)--(88,825)--(88,785)--(125,760) (125,842)--(133,880) (97,792)--(97,818) (152,792)--(152,818) (100,830)--(122,835);
\Dbl{160,705}{160,664}
\At{160}{664}{O}\At{201}{722}{H}\At{133}{880}{OH}
\draw[bd] (568,745)--(568,783)--(530,802) (568,783)--(605,802);
\At{568}{745}{H}\At{568}{783}{N}\At{530}{802}{H}\At{605}{802}{H}
\draw[bd] (155,1370)--(205,1387)--(240,1365)--(275,1385) (275,1385)--(313,1365)--(352,1385)--(352,1422)--(313,1442)--(275,1422)--cycle (352,1422)--(397,1442) (283,1392)--(283,1416) (315,1375)--(344,1390) (315,1432)--(344,1418);
\At{155}{1370}{H\Su{2}N}\At{397}{1442}{OH}
\end{scope}
% zoom 12 frame
\begin{scope}[shift={(880pt,-640pt)},fab]
\draw[bd] (858,173)--(797,203)--(797,258);
\Dbl{797,203}{743,173}\Dbl{797,258}{845,290}
\At{743}{173}{O}\At{858}{173}{OH}\At{845}{290}{O}
\draw[bd] (162,1255)--(230,1285)--(282,1255)--(335,1285)--(385,1255)--(452,1285);
\Dbl{230,1285}{230,1350}\Dbl{385,1255}{385,1195}\Wd{282,1255}{285,1210}
\At{162}{1255}{HO}\At{230}{1350}{O}\At{295}{1195}{OH}\At{385}{1195}{O}\At{452}{1285}{OH}
\end{scope}
% zoom 4 frame
\begin{scope}[shift={(1050pt,-900pt)},fab]
\draw[bd] (355,222)--(355,270)--(305,298)--(307,352)--(355,382)--(403,352)--(403,298)--(355,270) (403,298)--(450,270)--(495,300)--(495,352)--(403,352) (315,305)--(315,345) (360,285)--(392,305) (360,368)--(392,348) (415,305)--(415,345);
\Wd{472,442}{492,370}
\draw[bd] (430,413)--(385,445)--(403,500)--(462,500)--(472,442)--cycle;
\Hs{462,500}{485,522}\Hs{403,500}{380,522}
\draw[bd] (375,535)--(252,535) (319,482)--(319,535);
\Dbl{319,535}{319,588}\Wd{385,445}{340,432}
\draw[bd] (340,432)--(265,467)--(175,467) (175,408)--(175,762) (232,697)--(175,697);
\Dbl{175,467}{120,467}\Dbl{175,697}{118,697}
\draw[bd] (232,697)--(270,675)--(325,700)--(372,675)--(420,700)--(463,670)--(510,695)--(560,670)--(607,695)--(650,670)--(700,695)--(745,670)--(810,695) (325,645)--(325,745) (372,675)--(388,623) (463,632)--(463,670) (650,632)--(650,670);
\Dbl{420,700}{420,748}\Dbl{607,695}{607,748}
\At{380}{222}{NH\Su{2}}\At{305}{298}{N}\At{355}{382}{N}\At{450}{270}{N}\At{495}{352}{N}
\At{430}{413}{O}\At{502}{533}{OH}\At{375}{535}{O}\At{319}{535}{P}\At{333}{482}{OH}\At{252}{535}{HO}\At{319}{588}{O}
\At{265}{467}{O}\At{175}{467}{P}\At{120}{467}{O}\At{190}{408}{OH}\At{175}{582}{O}\At{175}{697}{P}\At{118}{697}{O}\At{190}{762}{OH}\At{232}{697}{O}
\At{295}{645}{H\Su{3}C}\At{295}{745}{H\Su{3}C}\At{388}{623}{OH}\At{420}{748}{O}\At{463}{670}{N}\At{463}{632}{H}\At{607}{748}{O}\At{650}{670}{N}\At{650}{632}{H}\At{810}{695}{SH}
\end{scope}
% C00074, overview frame
\draw[bd] (590,20)--(584,28)--(584,38) (584,38)--(592,40)--(604,40) (592,40)--(590,48);
\Dbl{584,28}{574,20}\Dbl{584,38}{570,41}\Dbl{592,40}{592,31}
\At{574}{20}{O}\At{590}{20}{OH}\At{570}{41}{H\Su{2}C}\At{585}{41}{O}\At{592}{40}{P}\At{592}{31}{O}\At{604}{40}{OH}\At{590}{48}{HO}
% connectors
\St{C00279}{R01830}\St{C00231}{R01830}\St{R01830}{C05345}\St{R01830}{C00118}
\St{C05345}{R02740}\St{R02740}{C00668}\St{C00668}{R00959}\St{R00959}{C00103}
\Cv{C00103}{70,490}{92,507}{R00955}
\Cv{C00052}{135,495}{133,505}{R00955}
\St{R00955}{C00446}\St{R00955}{C00029}
\St{C00361}{R01858}\St{C00074}{R01858}
\draw[arr] (R00341) -- (708,170) .. controls (708,110) and (665,82) .. (C00074);
\St{R01858}{C00286}\St{R01858}{C00022}\St{C00022}{R00209}
\Cv{C00022}{305,210}{262,219}{R00006}
\St{C00003a}{R00209}\St{R00006}{C00011a}\St{R00006}{C00900}
\Cv{R00209}{295,243}{245,258}{C00024}
\Cv{R00209}{300,250}{275,268}{C00080a}
\St{R00209}{C00004a}
\Cv{R00209}{395,252}{420,265}{C00011b}
\St{C00048}{R00472}\St{C00001a}{R00472}
\Cv{C00024}{232,345}{290,356}{R00472}
\draw[arr] (C00010) .. controls (545,370) and (556,345) .. (555,320) .. controls (553,285) and (540,262) .. (500,254) .. controls (450,246) and (400,240) .. (R00209);
\Cv{R00472}{440,396}{436,405}{C00149}
\St{R00472}{C00010}
\Cv{C00149}{430,495}{485,512}{R00342}
\St{C00003b}{R00342}
\Cv{R00342}{552,536}{525,548}{C00036}
\St{R00342}{C00004b}
\Cv{R00342}{632,537}{662,550}{C00080b}
\Cv{C00036}{512,632}{560,641}{R00341}
\St{C00002}{R00341}
\Cv{R00341}{670,678}{648,692}{C00011c}
\St{R00341}{C00008}
\St{C00029}{R00286}\St{C00003c}{R00286}
\Cv{C00001b}{425,620}{405,640}{R00286}
\St{R00286}{C00167}\St{R00286}{C00004c}
\Cv{R00286}{385,668}{418,685}{C00080c}
\Cv{C00167}{285,765}{310,770}{R07658}
\Cv{C00003d}{440,770}{400,775}{R07658}
\Cv{R07658}{305,803}{278,820}{C00011d}
\St{R07658}{C00080d}\St{R07658}{C00004d}
\Cv{R07658}{395,800}{445,812}{C16155}
\Cv{C00090}{1172,78}{1200,92}{R00818}
\St{C00011e}{R00818}\St{C00003e}{R00818}
\Cv{C00001c}{1365,65}{1335,85}{R00818}
\Cv{R00818}{1205,116}{1180,130}{C00805}
\St{R00818}{C00007b}\St{R00818}{C00004e}
\Cv{R00818}{1310,118}{1360,130}{C00080e}
\Cv{C00007a}{1120,205}{1160,222}{R07709}
\Cv{C00805}{1175,212}{1220,225}{R07709}
\Cv{C00004f}{1385,213}{1350,225}{R07709}
\Cv{C00080f}{1540,205}{1470,225}{R07709}
\Cv{R07709}{1265,250}{1240,265}{C00628}
\St{R07709}{C00003f}
\Cv{R07709}{1350,248}{1380,265}{C00001d}
\St{C00027a}{R02657}\St{C00628}{R02657}
\Cv{R02657}{1160,385}{1140,410}{C00007c}
\St{R02657}{C05585}
\Cv{R02657}{1215,385}{1232,410}{C00001e}
\St{C05585}{R02520}
\Cv{C00011f}{1278,475}{1265,498}{R02520}
\Cv{C00001f}{1317,490}{1290,514}{R02520}
\St{R02520}{C00544}\St{R02520}{C00007d}
\Cv{C00011g}{860,490}{890,508}{R07500}
\Cv{C00013}{920,485}{945,505}{R07500}
\St{C15882}{R07500}\St{R07500}{C05427}
\Cv{R07500}{1045,532}{1085,550}{C00544}
\Cv{C00011h}{894,630}{945,650}{R02521}
\Cv{C00544}{1085,632}{1050,645}{R02521}
\St{R02521}{C01179}
\Cv{R02521}{1012,680}{1020,695}{C00007e}
\St{C01179}{R03341}\St{R03341}{C03765}\St{R03341}{C00011i}
\Cv{C03765}{975,895}{995,906}{R02382}
\St{C00014}{R02382}\St{C00027b}{R02382}
\St{R02382}{C00483}\St{R02382}{C00007f}\St{R02382}{C00001g}
\Cv{C00483}{1005,1020}{1050,1034}{R02383}
\St{C00007g}{R02383}\St{C00004g}{R02383}
\Cv{C00080g}{1276,1015}{1230,1033}{R02383}
\St{R02383}{C00003g}\St{R02383}{C00001h}
\Cv{R02383}{1195,1072}{1215,1080}{C03758}
\Cv{C00082}{990,1153}{1040,1164}{R02078}
\St{C00007h}{R02078}\St{C03758}{R02080}
\Cv{C00011j}{1295,1145}{1282,1160}{R02080}
\Cv{R02078}{1160,1205}{1148,1212}{C00001i}
\St{R02078}{C00822}
\Cv{R02078}{1210,1204}{1218,1208}{C00355}
\Cv{C00355}{1228,1207}{1215,1198}{R02078}
\St{R02080}{C00355}
\end{tikzpicture}
\end{document}
